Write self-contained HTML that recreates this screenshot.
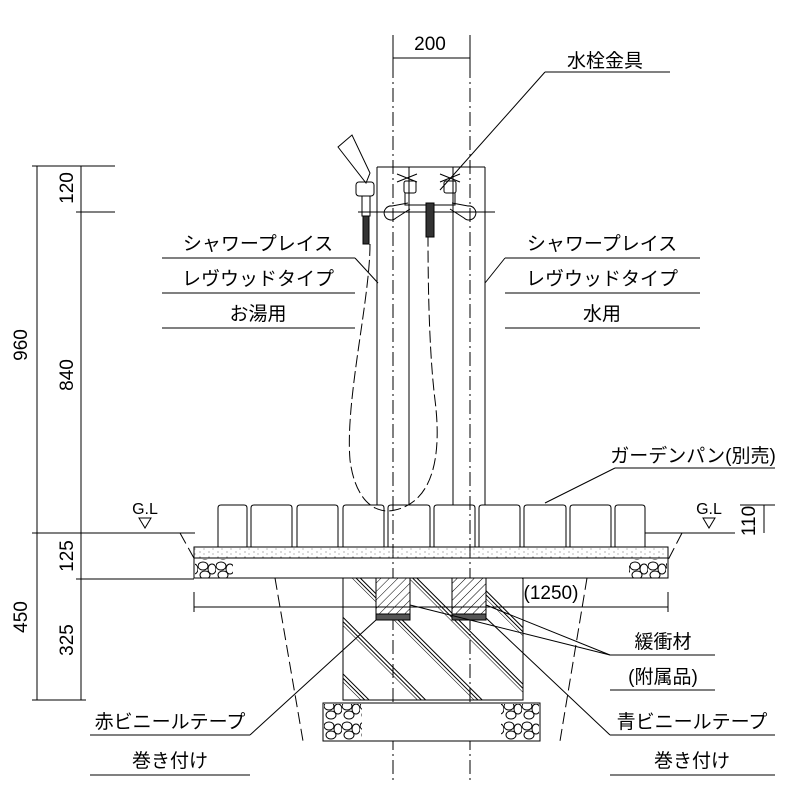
<!DOCTYPE html>
<html><head><meta charset="utf-8"><style>
body{margin:0;background:#fff}
svg text{font-family:"Liberation Sans","Noto Sans CJK JP",sans-serif;fill:#000}
</style></head><body>
<svg width="800" height="800" viewBox="0 0 800 800" xmlns="http://www.w3.org/2000/svg">
<defs>
<pattern id="h1" width="40" height="40" patternUnits="userSpaceOnUse" patternTransform="rotate(-45)">
<line x1="0" y1="0" x2="0" y2="40" stroke="#000" stroke-width="1"/>
<line x1="3" y1="0" x2="3" y2="40" stroke="#000" stroke-width="1"/>
<line x1="6" y1="0" x2="6" y2="40" stroke="#000" stroke-width="1"/>
</pattern>
<pattern id="h2" width="6" height="6" patternUnits="userSpaceOnUse" patternTransform="rotate(45)">
<line x1="0" y1="0" x2="0" y2="6" stroke="#000" stroke-width="1"/>
</pattern>
<pattern id="dots" width="9" height="5" patternUnits="userSpaceOnUse">
<circle cx="2" cy="2" r="0.5" fill="#333"/><circle cx="6" cy="4" r="0.5" fill="#555"/>
</pattern>
<pattern id="grav" width="18" height="20" patternUnits="userSpaceOnUse">
<ellipse cx="5" cy="6" rx="5" ry="4" fill="none" stroke="#000"/>
<ellipse cx="14" cy="9" rx="4" ry="5" fill="none" stroke="#000"/>
<ellipse cx="7" cy="15" rx="5" ry="4" fill="none" stroke="#000"/>
</pattern>
</defs>
<g stroke="#000" stroke-width="1" fill="none">
<line x1="37" y1="166" x2="37" y2="700"/>
<line x1="81" y1="166" x2="81" y2="700"/>
<line x1="32" y1="166" x2="115" y2="166"/>
<line x1="76" y1="212" x2="115" y2="212"/>
<line x1="32" y1="533" x2="195" y2="533"/>
<line x1="76" y1="579" x2="194" y2="579"/>
<line x1="32" y1="700" x2="86" y2="700"/>
<line x1="393" y1="35" x2="393" y2="65"/>
<line x1="470" y1="35" x2="470" y2="65"/>
<line x1="393" y1="58" x2="470" y2="58"/>
<line x1="393" y1="40" x2="393" y2="780" stroke-dasharray="14,4,2,4"/>
<line x1="470" y1="40" x2="470" y2="780" stroke-dasharray="14,4,2,4"/>
<line x1="377" y1="167" x2="377" y2="505"/>
<line x1="409" y1="167" x2="409" y2="505"/>
<line x1="453" y1="167" x2="453" y2="505"/>
<line x1="485" y1="167" x2="485" y2="505"/>
<line x1="377" y1="167" x2="485" y2="167"/>
<line x1="358" y1="212" x2="495" y2="212"/>
<!-- faucet -->
<path d="M397 174 l20 8 M417 174 l-20 8 M440 174 l20 8 M460 174 l-20 8" />
<rect x="404" y="181" width="12" height="12" rx="2"/>
<rect x="444" y="181" width="12" height="12" rx="2"/>
<path d="M405 193 v12 h50 v-12"/>
<path d="M408 203 l-16 3 a7 7 0 1 0 4 12 l14 -9 M452 203 l16 3 a7 7 0 1 1 -4 12 l-14 -9"/>
<rect x="426" y="203" width="8" height="34" fill="#333"/>
<!-- shower -->
<path d="M338 147 l14 -12 l18 38 l-4 10 z"/>
<rect x="356" y="182" width="18" height="14" rx="3"/>
<rect x="362" y="196" width="8" height="20"/>
<rect x="363" y="216" width="6" height="28" fill="#333"/>
<path d="M370 244 C370 300 345 400 350 460 C355 500 375 515 395 510 C440 500 440 440 435 400 C430 360 428 300 428 237" stroke-dasharray="12,4"/>
<path d="M218 547 V508 q0 -3 3 -3 h23 q3 0 3 3 V547"/>
<path d="M251 547 V508 q0 -3 3 -3 h35 q3 0 3 3 V547"/>
<path d="M297 547 V508 q0 -3 3 -3 h35 q3 0 3 3 V547"/>
<path d="M343 547 V508 q0 -3 3 -3 h35 q3 0 3 3 V547"/>
<path d="M388 547 V508 q0 -3 3 -3 h36 q3 0 3 3 V547"/>
<path d="M434 547 V508 q0 -3 3 -3 h35 q3 0 3 3 V547"/>
<path d="M479 547 V508 q0 -3 3 -3 h35 q3 0 3 3 V547"/>
<path d="M524 547 V508 q0 -3 3 -3 h36 q3 0 3 3 V547"/>
<path d="M570 547 V508 q0 -3 3 -3 h35 q3 0 3 3 V547"/>
<path d="M615 547 V508 q0 -3 3 -3 h24 q3 0 3 3 V547"/>
<line x1="645" y1="533" x2="735" y2="533"/>
<rect x="194" y="547" width="474" height="11" fill="url(#dots)"/>
<rect x="194" y="558" width="474" height="20"/>
<rect x="195" y="559" width="38" height="19" fill="url(#grav)" stroke="none"/>
<rect x="629" y="559" width="38" height="19" fill="url(#grav)" stroke="none"/>
<line x1="180" y1="533" x2="195" y2="560" stroke-dasharray="12,5"/>
<line x1="275" y1="578" x2="303" y2="741" stroke-dasharray="12,5"/>
<line x1="682" y1="533" x2="668" y2="560" stroke-dasharray="12,5"/>
<line x1="587" y1="578" x2="560" y2="741" stroke-dasharray="12,5"/>
<rect x="343" y="578" width="180" height="122" fill="url(#h1)"/>
<rect x="376" y="578" width="34" height="42" fill="#fff"/>
<rect x="376" y="578" width="34" height="37" fill="url(#h2)"/>
<rect x="376" y="614" width="34" height="6" fill="#555"/>
<rect x="452" y="578" width="34" height="42" fill="#fff"/>
<rect x="452" y="578" width="34" height="37" fill="url(#h2)"/>
<rect x="452" y="614" width="34" height="6" fill="#555"/>
<rect x="323" y="703" width="217" height="38" fill="#fff"/>
<rect x="324" y="704" width="38" height="36" fill="url(#grav)" stroke="none"/>
<rect x="501" y="704" width="38" height="36" fill="url(#grav)" stroke="none"/>
<line x1="194" y1="592" x2="194" y2="612"/>
<line x1="668" y1="592" x2="668" y2="612"/>
<line x1="194" y1="607" x2="668" y2="607"/>
<line x1="740" y1="505" x2="775" y2="505"/>
<line x1="764" y1="505" x2="764" y2="533"/>
<line x1="162" y1="258" x2="355" y2="258"/><line x1="355" y1="258" x2="378" y2="283"/>
<line x1="162" y1="293" x2="355" y2="293"/>
<line x1="162" y1="328" x2="355" y2="328"/>
<line x1="505" y1="258" x2="700" y2="258"/><line x1="505" y1="258" x2="485" y2="283"/>
<line x1="505" y1="293" x2="700" y2="293"/>
<line x1="505" y1="328" x2="700" y2="328"/>
<line x1="545" y1="72" x2="670" y2="72"/><line x1="545" y1="72" x2="440" y2="190"/>
<line x1="615" y1="468" x2="775" y2="468"/><line x1="615" y1="468" x2="545" y2="503"/>
<line x1="610" y1="655" x2="715" y2="655"/>
<line x1="610" y1="690" x2="715" y2="690"/>
<line x1="610" y1="655" x2="410" y2="605"/><line x1="610" y1="655" x2="486" y2="605"/>
<line x1="90" y1="735" x2="250" y2="735"/><line x1="250" y1="735" x2="376" y2="620"/>
<line x1="90" y1="775" x2="250" y2="775"/>
<line x1="610" y1="735" x2="775" y2="735"/><line x1="610" y1="735" x2="486" y2="618"/>
<line x1="610" y1="775" x2="775" y2="775"/>
<path d="M139 518 h12 l-6 10 z"/>
<path d="M703 518 h12 l-6 10 z"/>
</g>
<g font-size="19">
<text x="430" y="50" text-anchor="middle">200</text>
<text x="605" y="67" text-anchor="middle">水栓金具</text>
<text x="258" y="250" text-anchor="middle">シャワープレイス</text>
<text x="258" y="285" text-anchor="middle">レヴウッドタイプ</text>
<text x="258" y="320" text-anchor="middle">お湯用</text>
<text x="602" y="250" text-anchor="middle">シャワープレイス</text>
<text x="602" y="285" text-anchor="middle">レヴウッドタイプ</text>
<text x="602" y="320" text-anchor="middle">水用</text>
<text x="693" y="462" text-anchor="middle">ガーデンパン(別売)</text>
<text x="145" y="514" text-anchor="middle" font-size="16">G.L</text>
<text x="709" y="514" text-anchor="middle" font-size="16">G.L</text>
<text x="551" y="599" text-anchor="middle">(1250)</text>
<text x="663" y="648" text-anchor="middle">緩衝材</text>
<text x="663" y="683" text-anchor="middle">(附属品)</text>
<text x="170" y="728" text-anchor="middle">赤ビニールテープ</text>
<text x="170" y="767" text-anchor="middle">巻き付け</text>
<text x="692" y="728" text-anchor="middle">青ビニールテープ</text>
<text x="692" y="767" text-anchor="middle">巻き付け</text>
<text transform="translate(27,345) rotate(-90)" text-anchor="middle">960</text>
<text transform="translate(73,188) rotate(-90)" text-anchor="middle">120</text>
<text transform="translate(73,375) rotate(-90)" text-anchor="middle">840</text>
<text transform="translate(73,556) rotate(-90)" text-anchor="middle">125</text>
<text transform="translate(73,640) rotate(-90)" text-anchor="middle">325</text>
<text transform="translate(27,617) rotate(-90)" text-anchor="middle">450</text>
<text transform="translate(755,521) rotate(-90)" text-anchor="middle">110</text>
</g>
</svg>
</body></html>
